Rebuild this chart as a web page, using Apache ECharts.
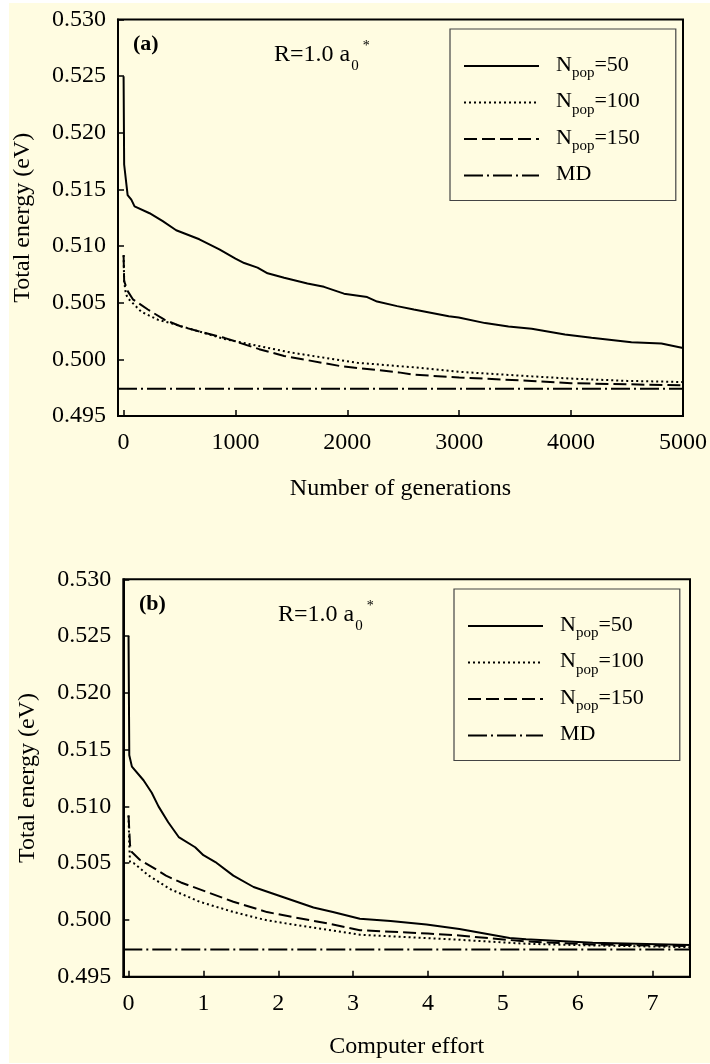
<!DOCTYPE html>
<html>
<head>
<meta charset="utf-8">
<script src="https://cdn.jsdelivr.net/npm/echarts@6/dist/echarts.min.js"></script>
<style>
html,body{margin:0;padding:0;background:#fff;}
#chart{width:710px;height:1064px;}
</style>
</head>
<body>
<div id="chart"></div>
<script>
// ---------- data ----------
const seriesNames = ['N_pop=50', 'N_pop=100', 'N_pop=150', 'MD'];
const MD_ENERGY = 0.4974;

// Panel (a): number of generations
const genA50 = [0, 5, 36, 69, 98, 232, 350, 470, 677, 856, 1000, 1078, 1197, 1287, 1435, 1643, 1791, 1910, 1970, 2177, 2266, 2445, 2594, 2906, 2995, 3232, 3440, 3648, 3945, 4183, 4539, 4807, 5000];
const eA50   = [0.5250, 0.5172, 0.5145, 0.5141, 0.5135, 0.5129, 0.5122, 0.5114, 0.5106, 0.5097, 0.5089, 0.5085, 0.5081, 0.5076, 0.5072, 0.5067, 0.5064, 0.5060, 0.5058, 0.5055, 0.5051, 0.5047, 0.5044, 0.5038, 0.5037, 0.5032, 0.5029, 0.5027, 0.5022, 0.5019, 0.5015, 0.5014, 0.5010];
const genA100 = [0, 5, 20, 38, 158, 306, 455, 662, 900, 1495, 2089, 2460, 2594, 3000, 3648, 4000, 4500, 5000];
const eA100   = [0.5092, 0.5069, 0.5058, 0.5054, 0.5042, 0.5035, 0.5031, 0.5025, 0.5018, 0.5006, 0.4997, 0.4994, 0.4993, 0.4989, 0.4985, 0.4983, 0.4981, 0.4980];
const genA150 = [0, 5, 38, 83, 217, 365, 514, 662, 900, 1212, 1435, 1940, 2460, 2594, 3000, 3648, 4000, 4500, 5000];
const eA150   = [0.5092, 0.5069, 0.5060, 0.5053, 0.5044, 0.5035, 0.5029, 0.5025, 0.5019, 0.5009, 0.5003, 0.4994, 0.49885, 0.49865, 0.4984, 0.4981, 0.4979, 0.4978, 0.4977];
const genAMD = [-50, 5000];

// Panel (b): computer effort
const effB50 = [0, 0.01, 0.045, 0.2, 0.31, 0.4, 0.53, 0.67, 0.89, 1.0, 1.16, 1.4, 1.67, 2.07, 2.47, 2.73, 3.09, 3.5, 3.98, 4.42, 5.09, 5.31, 6.2, 7.5];
const eB50   = [0.5250, 0.5145, 0.5135, 0.5123, 0.5112, 0.5100, 0.5086, 0.5073, 0.5064, 0.5057, 0.5051, 0.5039, 0.5029, 0.5020, 0.5011, 0.5007, 0.5001, 0.4999, 0.4996, 0.4992, 0.4984, 0.4983, 0.4980, 0.4978];
const effB100 = [0, 0.01, 0.02, 0.07, 0.27, 0.56, 0.95, 1.4, 1.85, 2.51, 3.09, 4.42, 5.31, 6.2, 7.5];
const eB100   = [0.5092, 0.5066, 0.5051, 0.5050, 0.5039, 0.5027, 0.5016, 0.5007, 0.49996, 0.49928, 0.4987, 0.49825, 0.4979, 0.49775, 0.4976];
const effB150 = [0, 0.02, 0.04, 0.15, 0.38, 0.5, 0.7, 1.03, 1.4, 1.85, 2.2, 2.73, 3.09, 4.0, 4.42, 5.31, 6.2, 7.5];
const eB150   = [0.5092, 0.5066, 0.5060, 0.5053, 0.5044, 0.5039, 0.5033, 0.5025, 0.5016, 0.50069, 0.50025, 0.4996, 0.4991, 0.4988, 0.49863, 0.4981, 0.49784, 0.4977];
const effBMD = [-0.07, 7.5];

// ticks
const xTicksA = [0, 1000, 2000, 3000, 4000, 5000];
const xTicksB = [0, 1, 2, 3, 4, 5, 6, 7];
const yTicks = [0.495, 0.500, 0.505, 0.510, 0.515, 0.520, 0.525, 0.530];

// ---------- chart ----------
const FONT = '"Liberation Serif", "Times New Roman", serif';
const zip = (xs, ys) => xs.map((x, i) => [x, ys[i]]);
const styles = {
  'N_pop=50':  { type: 'solid', width: 2 },
  'N_pop=100': { type: [2, 3], width: 2 },
  'N_pop=150': { type: [13, 5], width: 2 },
  'MD':        { type: [19, 4, 2, 4], width: 2 }
};

function mkSeries(name, xs, ys, idx) {
  return {
    name: name, type: 'line', xAxisIndex: idx, yAxisIndex: idx,
    data: zip(xs, ys), symbol: 'none', showSymbol: false, animation: false,
    lineStyle: Object.assign({ color: '#000' }, styles[name]),
    itemStyle: { color: '#000' }, z: 3
  };
}

function xAxis(idx, min, max, ticks, name, gap) {
  return {
    type: 'value', gridIndex: idx, min: min, max: max,
    axisLine: { show: true, onZero: false, lineStyle: { color: '#000', width: 2 } },
    axisTick: { show: true, inside: true, length: 6, customValues: ticks, lineStyle: { color: '#000', width: 1.5 } },
    axisLabel: { customValues: ticks, color: '#000', fontFamily: FONT, fontSize: 24, margin: 15,
                 formatter: v => String(v) },
    splitLine: { show: false },
    name: name, nameLocation: 'middle', nameGap: gap,
    nameTextStyle: { color: '#000', fontFamily: FONT, fontSize: 24 }
  };
}
function yAxis(idx, gap) {
  return {
    type: 'value', gridIndex: idx, min: 0.495, max: 0.530,
    axisLine: { show: true, onZero: false, lineStyle: { color: '#000', width: 2 } },
    axisTick: { show: true, inside: true, length: 6, customValues: yTicks, lineStyle: { color: '#000', width: 1.5 } },
    axisLabel: { customValues: yTicks, color: '#000', fontFamily: FONT, fontSize: 24, margin: 12,
                 formatter: v => v.toFixed(3) },
    splitLine: { show: false },
    name: 'Total energy (eV)', nameLocation: 'middle', nameGap: gap, nameRotate: 90,
    nameTextStyle: { color: '#000', fontFamily: FONT, fontSize: 24 }
  };
}

const legendRich = {
  f: { fontFamily: FONT, fontSize: 22, lineHeight: 24, verticalAlign: 'top', color: '#000', padding: [0, 0, 0, 12] },
  n: { fontFamily: FONT, fontSize: 22, lineHeight: 24, verticalAlign: 'top', color: '#000' },
  s: { fontFamily: FONT, fontSize: 15, lineHeight: 15, verticalAlign: 'top', color: '#000', padding: [12, 0, 0, 0] }
};
function legendFmt(name) {
  if (name.indexOf('N_pop') === 0) return '{f|N}{s|pop}{n|' + name.slice(5) + '}';
  return '{f|' + name + '}';
}
function legend(left, top) {
  return {
    data: seriesNames, orient: 'vertical', left: left, top: top,
    itemWidth: 75, itemHeight: 14, itemGap: 9.5, selectedMode: false,
    padding: [25, 36, 15, 13], borderColor: '#444', borderWidth: 1.2,
    backgroundColor: 'transparent',
    itemStyle: { opacity: 0 },
    formatter: legendFmt,
    textStyle: { color: '#000', fontFamily: FONT, fontSize: 22, rich: legendRich }
  };
}

const rRich = {
  m: { fontFamily: FONT, fontSize: 24, lineHeight: 26, padding: [6, 0, 0, 0], verticalAlign: 'top', fill: '#000' },
  sub: { fontFamily: FONT, fontSize: 15, lineHeight: 15, padding: [22, 0, 0, 1], verticalAlign: 'top', fill: '#000' },
  sup: { fontFamily: FONT, fontSize: 14, lineHeight: 14, padding: [2, 0, 0, 4], verticalAlign: 'top', fill: '#000' }
};
function rText(x, y) {
  return { type: 'text', left: x, top: y, z: 10,
    style: { text: '{m|R=1.0 a}{sub|0}{sup|*}', rich: rRich, fill: '#000' } };
}
function panelLabel(x, y, t) {
  return { type: 'text', left: x, top: y, z: 10,
    style: { text: t, fill: '#000', font: 'bold 22px ' + FONT } };
}

const chart = echarts.init(document.getElementById('chart'), null, { renderer: 'canvas' });
chart.setOption({
  backgroundColor: '#ffffff',
  animation: false,
  graphic: [
    { type: 'rect', shape: { x: 9, y: 3, width: 701, height: 1060 }, style: { fill: '#FFFCE1' }, z: -10, silent: true },
    panelLabel(133, 33, '(a)'),
    panelLabel(139, 593, '(b)'),
    rText(274, 37),
    rText(278, 597)
  ],
  grid: [
    { left: 118, top: 19.5, width: 567, height: 396.5, show: true, borderColor: '#000', borderWidth: 2, backgroundColor: 'transparent' },
    { left: 123.3, top: 579.3, width: 566.7, height: 397.4, show: true, borderColor: '#000', borderWidth: 2, backgroundColor: 'transparent' }
  ],
  xAxis: [
    xAxis(0, -50, 5000, xTicksA, 'Number of generations', 61),
    xAxis(1, -0.07, 7.5, xTicksB, 'Computer effort', 58)
  ],
  yAxis: [ yAxis(0, 83), yAxis(1, 84) ],
  legend: [ legend(450, 29), legend(454, 589) ],
  series: [
    mkSeries('N_pop=50', genA50, eA50, 0),
    mkSeries('N_pop=100', genA100, eA100, 0),
    mkSeries('N_pop=150', genA150, eA150, 0),
    mkSeries('MD', genAMD, genAMD.map(() => MD_ENERGY), 0),
    mkSeries('N_pop=50', effB50, eB50, 1),
    mkSeries('N_pop=100', effB100, eB100, 1),
    mkSeries('N_pop=150', effB150, eB150, 1),
    mkSeries('MD', effBMD, effBMD.map(() => MD_ENERGY), 1)
  ]
});
</script>
</body>
</html>
